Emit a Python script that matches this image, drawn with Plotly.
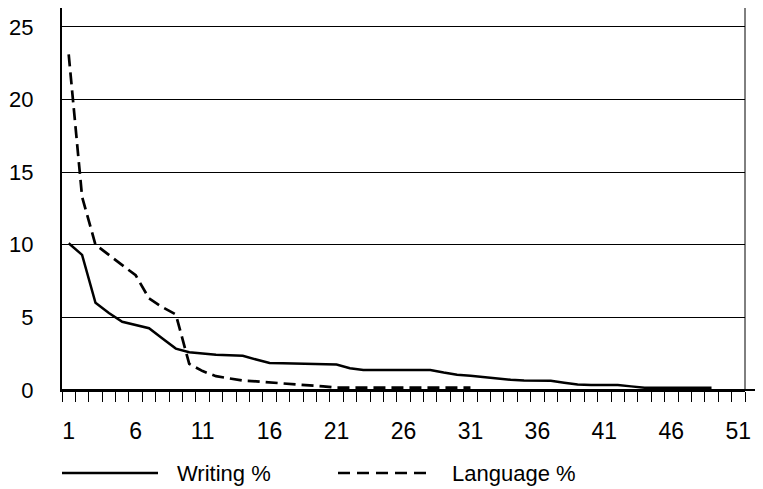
import plotly.graph_objects as go

# Data
writing_x = list(range(1, 50))
writing_pct = [10.1, 9.3, 6.0, 5.3, 4.7, 4.5, 4.25, 3.55, 2.85, 2.6,
               2.5, 2.42, 2.4, 2.36, 2.1, 1.86, 1.84, 1.82, 1.8, 1.78,
               1.75, 1.5, 1.38, 1.38, 1.38, 1.38, 1.38, 1.38, 1.2, 1.05,
               0.98, 0.88, 0.78, 0.7, 0.66, 0.65, 0.64, 0.5, 0.38, 0.34,
               0.34, 0.34, 0.25, 0.16, 0.16, 0.16, 0.16, 0.16, 0.16]

language_x = list(range(1, 32))
language_pct = [23.1, 13.3, 10.0, 9.3, 8.6, 7.9, 6.3, 5.7, 5.2, 1.8,
                1.3, 0.95, 0.8, 0.65, 0.6, 0.55, 0.45, 0.38, 0.34, 0.25,
                0.16, 0.16, 0.16, 0.16, 0.16, 0.16, 0.16, 0.16, 0.16, 0.16, 0.16]

x_tick_vals = [1, 6, 11, 16, 21, 26, 31, 36, 41, 46, 51]
y_tick_vals = [0, 5, 10, 15, 20, 25]

FONT = "Liberation Sans, Arial, sans-serif"

fig = go.Figure()
fig.add_trace(go.Scatter(x=writing_x, y=writing_pct, mode="lines", name="Writing %",
                         line=dict(color="black", width=2.5), showlegend=False))
fig.add_trace(go.Scatter(x=language_x, y=language_pct, mode="lines", name="Language %",
                         line=dict(color="black", width=2.7, dash="12px,6px"), showlegend=False))

# The page body has an 8px margin, so the figure is sized to fit the window.
OFF = 8
W, H = 755, 481
L, R, T, B = 54, 18, 0, 99
pw = W - L - R
ph = H - T - B

def px_x(p):
    return (p - OFF - L) / pw

def px_y(p):
    return (OFF + H - B - p) / ph

LEG_Y = 473

shapes = [
    # right border line
    dict(type="line", xref="paper", yref="paper", x0=1, x1=1, y0=0, y1=1,
         line=dict(color="black", width=1)),
    # x axis extension to the right edge
    dict(type="line", xref="paper", yref="paper", x0=0, x1=px_x(763), y0=0, y1=0,
         line=dict(color="black", width=2)),
    # legend samples
    dict(type="line", xref="paper", yref="paper", x0=px_x(62), x1=px_x(158),
         y0=px_y(LEG_Y), y1=px_y(LEG_Y), line=dict(color="black", width=2.5)),
    dict(type="line", xref="paper", yref="paper", x0=px_x(338), x1=px_x(432),
         y0=px_y(LEG_Y), y1=px_y(LEG_Y), line=dict(color="black", width=2.7, dash="12px,7px")),
]

annotations = [
    dict(text="Writing %", xref="paper", yref="paper", x=px_x(175), y=px_y(LEG_Y),
         xanchor="left", yanchor="middle", showarrow=False,
         font=dict(family=FONT, size=22, color="black")),
    dict(text="Language %", xref="paper", yref="paper", x=px_x(450), y=px_y(LEG_Y),
         xanchor="left", yanchor="middle", showarrow=False,
         font=dict(family=FONT, size=22, color="black")),
]

fig.update_layout(
    width=W, height=H,
    margin=dict(l=L, r=R, t=T, b=B, autoexpand=False),
    paper_bgcolor="white", plot_bgcolor="white",
    font=dict(family=FONT, size=22, color="black"),
    shapes=shapes, annotations=annotations,
    showlegend=False,
    xaxis=dict(range=[0.5, 51.5], tickvals=x_tick_vals, ticks="", showgrid=False,
               zeroline=False, showline=True, linecolor="black", linewidth=2,
               ticklabelstandoff=19, tickfont=dict(family=FONT, size=23, color="black"),
               minor=dict(tick0=0.5, dtick=1, ticks="outside", ticklen=10,
                          tickcolor="black", tickwidth=1, showgrid=False)),
    yaxis=dict(range=[0, 26.3], tickvals=y_tick_vals, ticks="", showgrid=True,
               gridcolor="black", gridwidth=1, zeroline=False, showline=True,
               linecolor="black", linewidth=2, ticklabelstandoff=22,
               tickfont=dict(family=FONT, size=22, color="black")),
)

fig.write_html("out.html")
